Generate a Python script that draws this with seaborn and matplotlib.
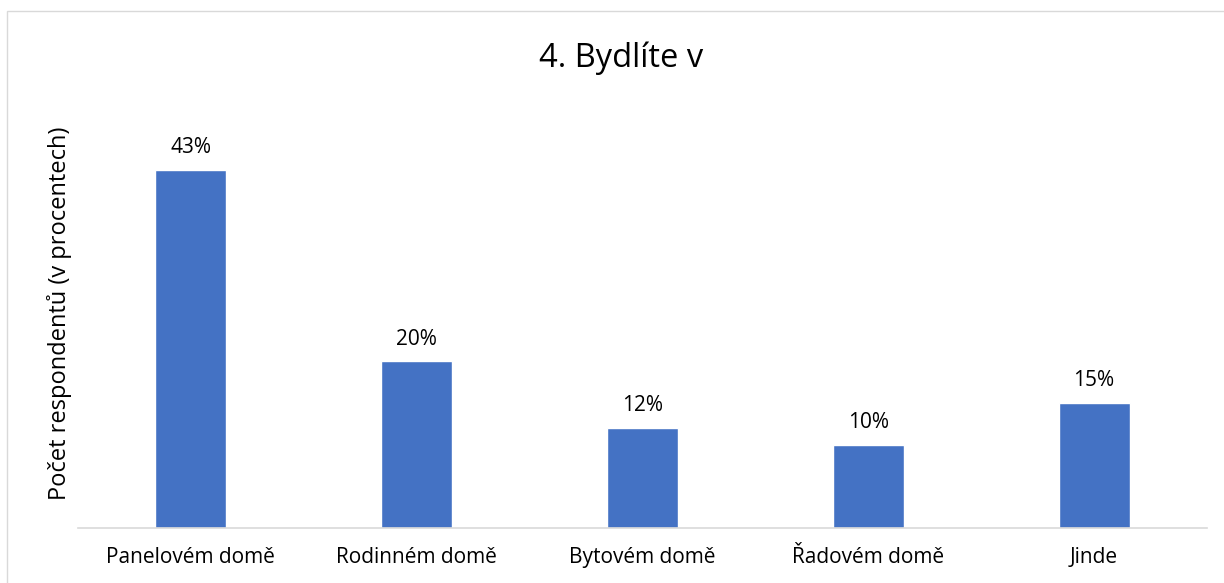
import seaborn as sns
import pandas as pd
import matplotlib.pyplot as plt
from matplotlib.patches import Rectangle

categories = ["Panelovém domě", "Rodinném domě", "Bytovém domě", "Řadovém domě", "Jinde"]
values = [43, 20, 12, 10, 15]
labels = ["43%", "20%", "12%", "10%", "15%"]

df = pd.DataFrame({"Bydlení": categories, "Procenta": values})

sns.set_style("white")
plt.rcParams["font.family"] = ["Open Sans", "DejaVu Sans"]

fig = plt.figure(figsize=(12.24, 5.83), dpi=100)
ax = fig.add_axes([78 / 1224, 1 - 528 / 583, 1129 / 1224, (528 - 111.5) / 583])

sns.barplot(data=df, x="Bydlení", y="Procenta", color="#4472C4", width=0.314,
            saturation=1, ax=ax)
ax.set_ylim(0, 50)
ax.set_xlim(-0.5, len(categories) - 0.5)

for i, (v, t) in enumerate(zip(values, labels)):
    ax.annotate(t, (i, v), xytext=(0, 12), textcoords="offset points",
                ha="center", va="baseline", fontsize=15, color="#000000")

sns.despine(ax=ax, left=True, top=True, right=True)
ax.spines["bottom"].set_color("#D9D9D9")
ax.spines["bottom"].set_linewidth(1.2)
ax.set_yticks([])
ax.tick_params(axis="x", length=0, pad=14, labelsize=15, labelcolor="#000000")
ax.set_xlabel("")
ax.set_ylabel("")

fig.text(60 / 1224, 1 - 313 / 583, "Počet respondentů (v procentech)",
         rotation=90, ha="center", va="center", fontsize=17, color="#000000")
fig.text(621 / 1224, 1 - 67 / 583, "4. Bydlíte v", ha="center", va="baseline",
         fontsize=23.5, color="#000000")

fig.patches.append(Rectangle((7 / 1224, -0.1), 1.2, 1 - 11 / 583 + 0.1,
                             transform=fig.transFigure, fill=False,
                             edgecolor="#D9D9D9", linewidth=1))

plt.savefig("out.png", dpi=100)
plt.close()
